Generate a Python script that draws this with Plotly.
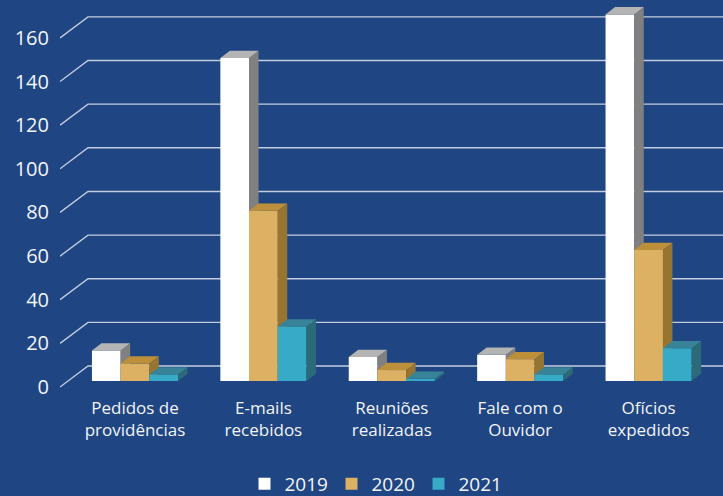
import plotly.graph_objects as go

# ---------------- data ----------------
categories = ["Pedidos de<br>providências", "E-mails<br>recebidos", "Reuniões<br>realizadas",
              "Fale com o<br>Ouvidor", "Ofícios<br>expedidos"]
series_names = ["2019", "2020", "2021"]
values_2019 = [14, 148, 11, 12, 168]
values_2020 = [8, 78, 5, 10, 60]
values_2021 = [3, 25, 1, 3, 15]
y_tick_values = [0, 20, 40, 60, 80, 100, 120, 140, 160]

series_values = [values_2019, values_2020, values_2021]

# ---------------- style ----------------
BG = "#1f4582"
FRONT = ["#ffffff", "#dcb164", "#37aac8"]
SIDE = ["#808080", "#97752f", "#2c6a7a"]
TOP = ["#b4b4b4", "#bc903a", "#388398"]
GRID = "#c3cde0"
FONT = "Open Sans"
TEXT = "#f2f4f8"

W, H = 723, 496
ML, MR, MT, MB = 60, 0, 0, 104
plot_w = W - ML - MR
plot_h = H - MT - MB

# geometry of the pseudo-3D projection (pixels)
px_per_cat = 128.4
first_center_px = 135.0
px_per_unit = 2.182
bar_zero_px = 381.0     # bottom of bar front faces
label_zero_px = 387.0   # front edge where the value labels sit
back_zero_px = 366.0    # back wall
back_dx_px = 28.0
depth_dx_px = 9.5
depth_dy_px = 7.3
legend_center_px = 484.0
legend_center_x_px = 375.0

x_lo = (ML - first_center_px) / px_per_cat
x_hi = (W - MR - first_center_px) / px_per_cat
bar_y_lo = (bar_zero_px - (MT + plot_h)) / px_per_unit
bar_y_hi = (bar_zero_px - MT) / px_per_unit
lab_y_lo = (label_zero_px - (MT + plot_h)) / px_per_unit
lab_y_hi = (label_zero_px - MT) / px_per_unit
back_shift = (label_zero_px - back_zero_px) / px_per_unit
x_back = x_lo + back_dx_px / px_per_cat

dx = depth_dx_px / px_per_cat
dy = depth_dy_px / px_per_unit
bar_w = 0.2235
offsets = [-1.5 * bar_w + i * bar_w for i in range(3)]
cat_pos = list(range(len(categories)))

fig = go.Figure()

# back wall grid lines with perspective diagonals (base axes)
gx, gy = [], []
for t in y_tick_values:
    gx += [x_lo, x_back, x_hi, None]
    gy += [t, t + back_shift, t + back_shift, None]
fig.add_trace(go.Scatter(x=gx, y=gy, mode="lines", line=dict(color=GRID, width=1.4),
                         hoverinfo="skip", showlegend=False, xaxis="x", yaxis="y"))

for i, (name, vals) in enumerate(zip(series_names, series_values)):
    xa, ya = f"x{i + 2}", f"y{i + 2}"
    fig.add_trace(go.Bar(x=cat_pos, y=vals, name=name, width=bar_w, offset=offsets[i],
                         marker=dict(color=FRONT[i], line=dict(width=0)),
                         xaxis=xa, yaxis=ya))
    sx, sy, tx, ty = [], [], [], []
    for c, v in zip(cat_pos, vals):
        xl = c + offsets[i]
        xr = xl + bar_w
        sx += [xr, xr + dx, xr + dx, xr, xr, None]
        sy += [0, dy, v + dy, v, 0, None]
        tx += [xl, xl + dx, xr + dx, xr, xl, None]
        ty += [v, v + dy, v + dy, v, v, None]
    fig.add_trace(go.Scatter(x=sx, y=sy, mode="lines", fill="toself", fillcolor=SIDE[i],
                             line=dict(width=0, color=SIDE[i]), hoverinfo="skip",
                             showlegend=False, xaxis=xa, yaxis=ya))
    fig.add_trace(go.Scatter(x=tx, y=ty, mode="lines", fill="toself", fillcolor=TOP[i],
                             line=dict(width=0, color=TOP[i]), hoverinfo="skip",
                             showlegend=False, xaxis=xa, yaxis=ya))

hidden_x = dict(range=[x_lo, x_hi], visible=False, overlaying="x", fixedrange=True)
hidden_y = dict(range=[bar_y_lo, bar_y_hi], visible=False, overlaying="y", fixedrange=True)

fig.update_layout(
    width=W, height=H, autosize=False,
    margin=dict(l=ML, r=MR, t=MT, b=MB, autoexpand=False),
    paper_bgcolor=BG, plot_bgcolor=BG,
    font=dict(family=FONT, color=TEXT),
    barmode="overlay",
    xaxis=dict(range=[x_lo, x_hi], tickvals=cat_pos, ticktext=categories,
               showgrid=False, zeroline=False, showline=False, ticks="",
               ticklabelstandoff=4,
               tickfont=dict(size=17, color=TEXT), fixedrange=True),
    yaxis=dict(range=[lab_y_lo, lab_y_hi], tickvals=y_tick_values,
               showgrid=False, zeroline=False, showline=False, ticks="",
               ticklabelstandoff=10,
               tickfont=dict(size=20, color=TEXT), fixedrange=True),
    xaxis2=dict(hidden_x, anchor="y2"), yaxis2=dict(hidden_y, anchor="x2"),
    xaxis3=dict(hidden_x, anchor="y3"), yaxis3=dict(hidden_y, anchor="x3"),
    xaxis4=dict(hidden_x, anchor="y4"), yaxis4=dict(hidden_y, anchor="x4"),
    legend=dict(orientation="h", x=(legend_center_x_px - ML) / plot_w, xanchor="center",
                y=(MT + plot_h - legend_center_px) / plot_h, yanchor="middle",
                entrywidth=42, entrywidthmode="pixels",
                font=dict(size=19, color=TEXT), bgcolor="rgba(0,0,0,0)"),
    showlegend=True,
)

fig.write_html("out.html", config={"displayModeBar": False},
               post_script="document.body.style.margin='0';document.body.style.overflow='hidden';"
                           "document.body.style.background='" + BG + "';")
